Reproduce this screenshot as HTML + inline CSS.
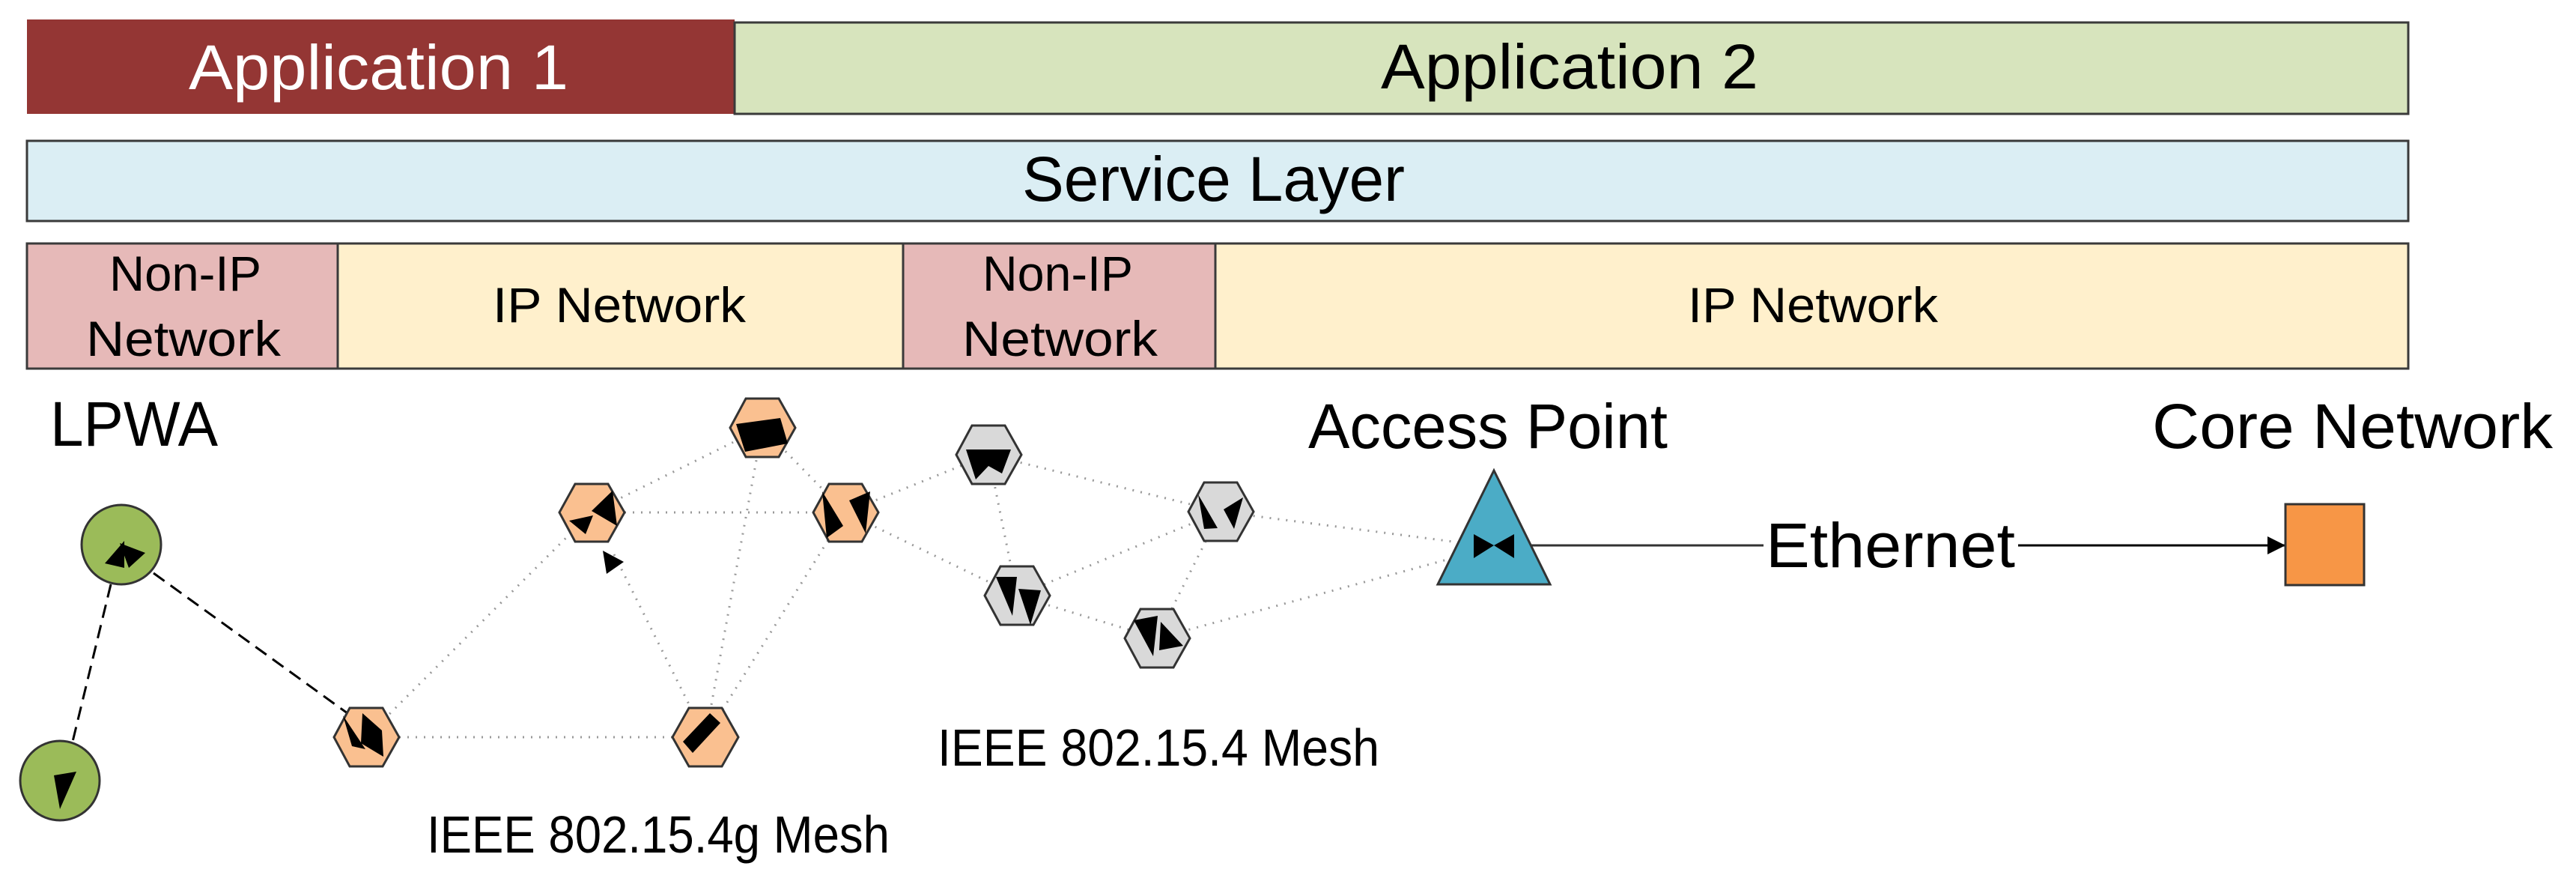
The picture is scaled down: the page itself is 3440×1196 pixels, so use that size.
<!DOCTYPE html>
<html><head><meta charset="utf-8"><style>
html,body{margin:0;padding:0;background:#fff;}
svg{display:block;}
text{font-family:"Liberation Sans",sans-serif;}
</style></head><body>
<svg width="3440" height="1196" viewBox="0 0 3440 1196" xmlns="http://www.w3.org/2000/svg">
<defs>
<marker id="ar2" viewBox="0 0 10 10" refX="10" refY="5" markerWidth="24" markerHeight="24" orient="auto" markerUnits="userSpaceOnUse"><path d="M0,0 L10,5 L0,10 z" fill="#000"/></marker>
</defs>
<rect x="36" y="26" width="945" height="126" fill="#943634"/>
<rect x="981" y="30" width="2235" height="122" fill="#d7e4bd" stroke="#3a3a3a" stroke-width="3"/>
<text x="252" y="119" fill="#fff" font-size="84" textLength="507" lengthAdjust="spacingAndGlyphs">Application 1</text>
<text x="1844" y="118" fill="#000" font-size="84" textLength="504" lengthAdjust="spacingAndGlyphs">Application 2</text>
<rect x="36" y="188" width="3180" height="107" fill="#dbeef4" stroke="#3a3a3a" stroke-width="3"/>
<text x="1365" y="268" fill="#000" font-size="84" textLength="511" lengthAdjust="spacingAndGlyphs">Service Layer</text>
<rect x="36" y="325" width="415" height="167" fill="#e6b9b8" stroke="#3a3a3a" stroke-width="3"/>
<rect x="451" y="325" width="755" height="167" fill="#fff0cc" stroke="#3a3a3a" stroke-width="3"/>
<rect x="1206" y="325" width="417" height="167" fill="#e6b9b8" stroke="#3a3a3a" stroke-width="3"/>
<rect x="1623" y="325" width="1593" height="167" fill="#fff0cc" stroke="#3a3a3a" stroke-width="3"/>
<g font-size="66" fill="#000">
<text x="146" y="388" textLength="203" lengthAdjust="spacingAndGlyphs">Non-IP</text>
<text x="115" y="475" textLength="260" lengthAdjust="spacingAndGlyphs">Network</text>
<text x="658" y="430" textLength="338" lengthAdjust="spacingAndGlyphs">IP Network</text>
<text x="1312" y="388" textLength="201" lengthAdjust="spacingAndGlyphs">Non-IP</text>
<text x="1285" y="475" textLength="261" lengthAdjust="spacingAndGlyphs">Network</text>
<text x="2254" y="430" textLength="334" lengthAdjust="spacingAndGlyphs">IP Network</text>
</g>
<g font-size="84" fill="#000">
<text x="67" y="595" textLength="224" lengthAdjust="spacingAndGlyphs">LPWA</text>
<text x="1747" y="598" textLength="480" lengthAdjust="spacingAndGlyphs">Access Point</text>
<text x="2874" y="598" textLength="535" lengthAdjust="spacingAndGlyphs">Core Network</text>
<text x="2358" y="757" textLength="333" lengthAdjust="spacingAndGlyphs">Ethernet</text>
</g>
<g font-size="70" fill="#000">
<text x="1252" y="1022" textLength="590" lengthAdjust="spacingAndGlyphs">IEEE 802.15.4 Mesh</text>
<text x="570" y="1138" textLength="618" lengthAdjust="spacingAndGlyphs">IEEE 802.15.4g Mesh</text>
</g>
<g stroke="#999" stroke-width="3" stroke-dasharray="2,9" fill="none">
<line x1="489" y1="984" x2="790" y2="684"/>
<line x1="489" y1="984" x2="942" y2="984"/>
<line x1="790" y1="684" x2="1129" y2="684"/>
<line x1="790" y1="684" x2="1018" y2="571"/>
<line x1="820" y1="740" x2="942" y2="984"/>
<line x1="1018" y1="571" x2="942" y2="984"/>
<line x1="1129" y1="684" x2="942" y2="984"/>
<line x1="1018" y1="571" x2="1129" y2="684"/>
<line x1="1129" y1="684" x2="1320" y2="607"/>
<line x1="1129" y1="684" x2="1358" y2="795"/>
<line x1="1320" y1="607" x2="1630" y2="683"/>
<line x1="1320" y1="607" x2="1358" y2="795"/>
<line x1="1630" y1="683" x2="1358" y2="795"/>
<line x1="1630" y1="683" x2="1545" y2="852"/>
<line x1="1358" y1="795" x2="1545" y2="852"/>
<line x1="1630" y1="683" x2="1995" y2="730"/>
<line x1="1545" y1="852" x2="1995" y2="730"/>
</g>
<g stroke="#000" stroke-width="3" stroke-dasharray="18,10" fill="none">
<line x1="205" y1="765" x2="475" y2="960"/>
<line x1="148" y1="780" x2="95" y2="998"/>
</g>
<line x1="2020" y1="728" x2="2355" y2="728" stroke="#333" stroke-width="3"/>
<line x1="2695" y1="728" x2="3052" y2="728" stroke="#000" stroke-width="3" marker-end="url(#ar2)"/>
<ellipse cx="162" cy="727" rx="53" ry="53" fill="#9bbb59" stroke="#333" stroke-width="3"/>
<ellipse cx="80" cy="1042" rx="53" ry="53" fill="#9bbb59" stroke="#333" stroke-width="3"/>
<path d="M140,752 L166,722 L166,758 z M160,725 L194,738 L172,758 z" fill="#000"/>
<path d="M72,1035 L102,1030 L80,1080 z" fill="#000"/>
<g stroke="#333" stroke-width="3">
<path d="M467,945 L511,945 L533,984 L511,1023 L467,1023 L446,984 z" fill="#fac090"/>
<path d="M920,945 L964,945 L986,984 L964,1023 L920,1023 L898,984 z" fill="#fac090"/>
<path d="M768,646 L812,646 L834,684 L812,723 L768,723 L747,684 z" fill="#fac090"/>
<path d="M996,532 L1040,532 L1062,571 L1040,610 L996,610 L975,571 z" fill="#fac090"/>
<path d="M1107,646 L1151,646 L1173,684 L1151,723 L1107,723 L1086,684 z" fill="#fac090"/>
<path d="M1298,568 L1342,568 L1364,607 L1342,646 L1298,646 L1277,607 z" fill="#d9d9d9"/>
<path d="M1608,644 L1652,644 L1674,683 L1652,722 L1608,722 L1587,683 z" fill="#d9d9d9"/>
<path d="M1336,756 L1380,756 L1402,795 L1380,834 L1336,834 L1315,795 z" fill="#d9d9d9"/>
<path d="M1523,813 L1567,813 L1589,852 L1567,891 L1523,891 L1502,852 z" fill="#d9d9d9"/>
</g>
<g fill="#000">
<path d="M458,955 L488,1000 L470,996 z M484,952 L510,975 L512,1010 L482,992 z"/>
<path d="M912,990 L948,952 L962,965 L925,1005 z"/>
<path d="M760,695 L792,688 L782,713 z M790,682 L818,655 L824,702 z"/>
<path d="M983,566 L1042,558 L1052,592 L995,603 z"/>
<path d="M1098,656 L1126,702 L1104,718 z M1134,668 L1162,656 L1156,712 z"/>
<path d="M1290,600 L1350,600 L1338,632 L1320,622 L1303,640 z"/>
<path d="M1600,660 L1626,705 L1608,706 z M1634,680 L1660,664 L1648,706 z"/>
<path d="M1330,770 L1358,770 L1352,822 z M1360,786 L1390,788 L1376,834 z"/>
<path d="M1514,828 L1546,822 L1540,876 z M1550,830 L1580,862 L1548,868 z"/>
<path d="M805,735 L833,750 L810,766 z"/>
</g>
<path d="M1995,628 L2070,780 L1920,780 z" fill="#4bacc6" stroke="#333" stroke-width="3"/>
<path d="M1968,713 L1995,728 L1968,745 z M2022,713 L1995,728 L2022,745 z" fill="#000"/>
<rect x="3052" y="673" width="105" height="108" fill="#f79646" stroke="#333" stroke-width="3"/>
</svg>
</body></html>
